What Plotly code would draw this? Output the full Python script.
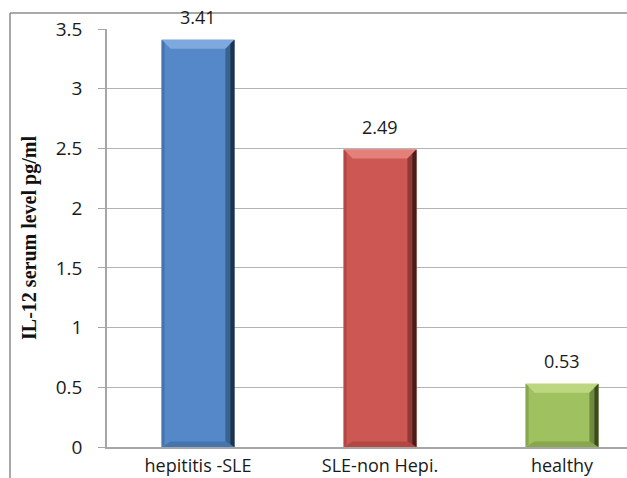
import plotly.graph_objects as go

# IL-12 serum levels by patient group
groups = ["hepititis -SLE", "SLE-non Hepi.", "healthy"]
il12_levels = [3.41, 2.49, 0.53]
value_labels = ["3.41", "2.49", "0.53"]
y_ticks = [0, 0.5, 1, 1.5, 2, 2.5, 3, 3.5]
y_tick_text = ["0", "0.5", "1", "1.5", "2", "2.5", "3", "3.5"]

# face / bevel colours per bar: (main, top highlight, bottom shade, right inner, right outer)
palettes = [
    ("#5588c8", "#7ea9de", "#4574ae", "#3a628f", "#1e324d"),
    ("#cd5752", "#e57f7a", "#b24844", "#8e3a36", "#4a1b19"),
    ("#a0c15f", "#bcd77f", "#88a64d", "#6f8a3e", "#3c4a1f"),
]

W, H = 627, 478
m_l, m_r, m_t, m_b = 107, 0, 29, 31
x_range = [-0.5, 2.357]
y_range = [0, 3.5]
bar_w = 0.4

plot_w = W - m_l - m_r
plot_h = H - m_t - m_b
px_x = (x_range[1] - x_range[0]) / plot_w   # data units per pixel (x)
px_y = (y_range[1] - y_range[0]) / plot_h   # data units per pixel (y)

fig = go.Figure()
fig.add_trace(go.Bar(
    x=list(range(len(groups))),
    y=il12_levels,
    width=bar_w,
    marker=dict(color=[p[0] for p in palettes], line=dict(width=0)),
    hoverinfo="skip",
    showlegend=False,
    cliponaxis=False,
))

shapes = []
def poly(pts, color):
    path = "M " + " L ".join(f"{x},{y}" for x, y in pts) + " Z"
    shapes.append(dict(type="path", path=path, xref="x", yref="y",
                       fillcolor=color, line=dict(width=0), layer="above"))

for i, (v, pal) in enumerate(zip(il12_levels, palettes)):
    main, top, bot, r_in, r_out = pal
    xl, xr = i - bar_w / 2, i + bar_w / 2
    bx, by = 9 * px_x, 9 * px_y      # bevel depth
    ob = 4 * px_x                      # outer dark edge width
    # top highlight
    poly([(xl, v), (xr, v), (xr - bx, v - by), (xl + bx, v - by)], top)
    # bottom shade
    poly([(xl, 0), (xr, 0), (xr - bx, by * 0.6), (xl + bx, by * 0.6)], bot)
    # right edge (inner band then darker outer band)
    poly([(xr, v), (xr, 0), (xr - bx, by * 0.6), (xr - bx, v - by)], r_in)
    poly([(xr, v), (xr, 0), (xr - ob, by * 0.3), (xr - ob, v - by * 0.45)], r_out)
    # left edge slight shade
    poly([(xl, v), (xl, 0), (xl + 3 * px_x, by * 0.3), (xl + 3 * px_x, v - by * 0.3)], bot)

# outer frame (top and left edges)
frame_x = (10 - m_l) / plot_w
frame_y = 1 + (m_t - 13) / plot_h
shapes.append(dict(type="line", xref="paper", yref="paper",
                   x0=frame_x, x1=1.05, y0=frame_y, y1=frame_y,
                   line=dict(color="#8c8c8c", width=1.5)))
shapes.append(dict(type="line", xref="paper", yref="paper",
                   x0=frame_x, x1=frame_x, y0=-0.2, y1=frame_y,
                   line=dict(color="#8c8c8c", width=1.5)))

annotations = [
    dict(x=i, y=v, xref="x", yref="y", text=t, showarrow=False,
         yshift=23, yanchor="middle",
         font=dict(family="Open Sans", size=18, color="#1a1a1a"))
    for i, (v, t) in enumerate(zip(il12_levels, value_labels))
]

fig.update_layout(
    width=W, height=H,
    margin=dict(l=m_l, r=m_r, t=m_t, b=m_b, pad=0),
    paper_bgcolor="white", plot_bgcolor="white",
    shapes=shapes, annotations=annotations,
    xaxis=dict(
        range=x_range, tickmode="array",
        tickvals=list(range(len(groups))), ticktext=groups,
        showgrid=False, zeroline=False, showline=True,
        linecolor="#a6a6a6", linewidth=1.5, ticks="",
        ticklabelstandoff=2,
        tickfont=dict(family="Open Sans", size=18, color="#1a1a1a"),
        fixedrange=True,
    ),
    yaxis=dict(
        range=y_range, tickmode="array",
        tickvals=y_ticks, ticktext=y_tick_text,
        showgrid=True, gridcolor="#b3b3b3", gridwidth=1.2,
        zeroline=False, showline=True, linecolor="#a6a6a6", linewidth=1.5,
        ticks="outside", ticklen=7, tickcolor="#a6a6a6", tickwidth=1.2,
        ticklabelstandoff=12,
        tickfont=dict(family="Open Sans", size=19, color="#1a1a1a"),
        title=dict(text="IL-12 serum level pg/ml", standoff=14,
                   font=dict(family="Liberation Serif", size=20, color="#111111",
                             weight="bold")),
        fixedrange=True,
    ),
)

fig.write_html("out.html")
